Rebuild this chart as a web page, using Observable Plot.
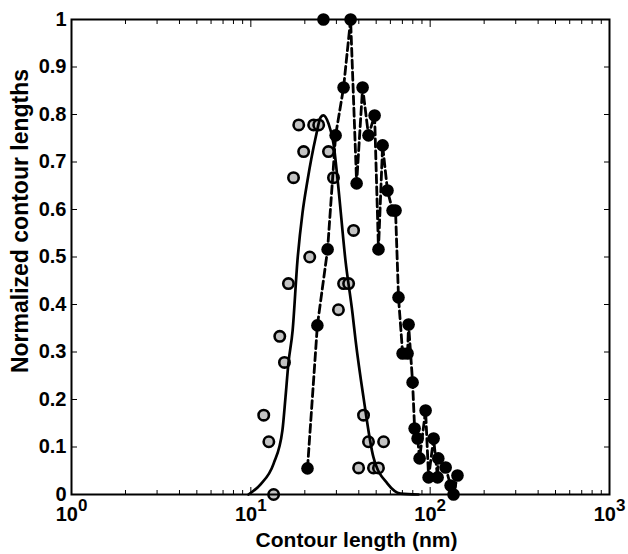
<!DOCTYPE html>
<html><head><meta charset="utf-8">
<script src="https://cdn.jsdelivr.net/npm/d3@7"></script>
<script src="https://cdn.jsdelivr.net/npm/@observablehq/plot@0.6"></script>
<style>
html,body{margin:0;padding:0;background:#fff;}
</style>
</head><body><div id="chart"></div>
<script>
// Gray circles (open, gray fill)
const grayX = [18.5, 22.4, 23.9, 19.7, 27.1, 17.3, 28.9, 37.4, 21.3, 16.2, 32.9, 35.1, 30.8, 14.5, 15.4, 11.8, 12.6, 13.4, 42.5, 45.3, 55.0, 39.9, 48.3, 51.5];
const grayY = [0.778, 0.778, 0.778, 0.722, 0.722, 0.667, 0.667, 0.556, 0.5, 0.444, 0.444, 0.444, 0.389, 0.333, 0.278, 0.167, 0.111, 0, 0.167, 0.111, 0.111, 0.056, 0.056, 0.056];

// Black dots joined by the dashed line
const blackX = [20.7, 23.5, 26.8, 29.7, 32.9, 36.0, 38.9, 42.0, 45.3, 49.0, 51.5, 54.3, 57.8, 61.7, 64.1, 66.6, 70.2, 74.8, 75.8, 79.8, 81.9, 85.1, 87.3, 94.3, 98.0, 104.5, 110, 111, 122, 130, 135, 142];
const blackY = [0.055, 0.356, 0.516, 0.756, 0.857, 1.0, 0.655, 0.857, 0.756, 0.798, 0.516, 0.735, 0.64, 0.598, 0.598, 0.415, 0.297, 0.297, 0.358, 0.236, 0.139, 0.118, 0.076, 0.177, 0.036, 0.118, 0.036, 0.076, 0.057, 0.019, 0, 0.04];

// Black dot not on the dashed line
const blackExtraX = [25.4];
const blackExtraY = [1.0];

// Solid fitted curve
const fitX = [9.7, 11.3, 13.4, 15.0, 15.6, 16.2, 17.1, 18.2, 19.4, 20.7, 23.0, 24.5, 25.4, 27.1, 28.9, 30.5, 33.7, 36.9, 38.4, 42.5, 48.3, 57.8, 68.4, 86];
const fitY = [0, 0.021, 0.065, 0.135, 0.204, 0.276, 0.345, 0.493, 0.592, 0.661, 0.752, 0.794, 0.798, 0.781, 0.739, 0.661, 0.493, 0.381, 0.324, 0.204, 0.078, 0.023, 0.002, 0];

// Ticks
const xMajor = [1, 10, 100, 1000];
const xMinor = [2,3,4,5,6,7,8,9,20,30,40,50,60,70,80,90,200,300,400,500,600,700,800,900];
const yTicks = [0, 0.1, 0.2, 0.3, 0.4, 0.5, 0.6, 0.7, 0.8, 0.9, 1];
const yTickLabels = ["0", "0.1", "0.2", "0.3", "0.4", "0.5", "0.6", "0.7", "0.8", "0.9", "1"];
const xTickBase = ["10", "10", "10", "10"];
const xTickExp = ["0", "1", "2", "3"];

const xTitle = "Contour length (nm)";
const yTitle = "Normalized contour lengths";

const zip = (xs, ys) => xs.map((x, i) => ({x, y: ys[i]}));
const gray = zip(grayX, grayY);
const black = zip(blackX, blackY);
const blackExtra = zip(blackExtraX, blackExtraY);
const fit = zip(fitX, fitY);

const font = "'Liberation Sans', Arial, Helvetica, sans-serif";

const svg = Plot.plot({
  width: 628,
  height: 554,
  marginLeft: 71,
  marginRight: 19,
  marginTop: 19,
  marginBottom: 60,
  x: {type: "log", domain: [1, 1000], label: null},
  y: {domain: [0, 1], label: null},
  style: {fontFamily: font, fontWeight: "bold", fontSize: "20px", color: "black", background: "white"},
  marks: [
    Plot.dot(gray, {x: "x", y: "y", r: 5.2, fill: "#c3c3c3", stroke: "black", strokeWidth: 2.6}),
    Plot.line(fit, {x: "x", y: "y", curve: "monotone-x", stroke: "black", strokeWidth: 2.7}),
    Plot.line(black, {x: "x", y: "y", stroke: "black", strokeWidth: 2.8, strokeDasharray: "8,4"}),
    Plot.dot(black.concat(blackExtra), {x: "x", y: "y", r: 6.3, fill: "black"}),
    Plot.frame({stroke: "black", strokeWidth: 2}),
    // inward ticks
    Plot.axisX(xMajor, {anchor: "bottom", tickSize: -7, tickFormat: () => "", label: null}),
    Plot.axisX(xMinor, {anchor: "bottom", tickSize: -4, tickFormat: () => "", label: null}),
    Plot.axisX(xMajor, {anchor: "top", tickSize: -7, tickFormat: () => "", label: null}),
    Plot.axisX(xMinor, {anchor: "top", tickSize: -4, tickFormat: () => "", label: null}),
    Plot.axisY(yTicks, {anchor: "left", tickSize: -6, tickFormat: () => "", label: null}),
    Plot.axisY(yTicks, {anchor: "right", tickSize: -6, tickFormat: () => "", label: null}),
    // tick labels
    Plot.text(xMajor, {x: d => d, text: d => xTickBase[xMajor.indexOf(d)] + "^" + xTickExp[xMajor.indexOf(d)],
      frameAnchor: "bottom", lineAnchor: "top", dy: 12, fontSize: 20, fontWeight: "bold", textAnchor: "middle"}),
    Plot.axisY(yTicks, {anchor: "left", tickSize: 0, tickPadding: 5, tickFormat: d => yTickLabels[yTicks.indexOf(d)], label: null, fontSize: 20}),
    // titles
    Plot.text([xTitle], {text: d => d, frameAnchor: "bottom", lineAnchor: "middle", dx: 16, dy: 46, fontSize: 21, fontWeight: "bold"}),
    Plot.text([yTitle], {text: d => d, frameAnchor: "left", textAnchor: "middle", lineAnchor: "middle", rotate: -90, dx: -51, dy: -36, fontSize: 23, fontWeight: "bold"})
  ]
});

// superscript exponents on the x tick labels
svg.querySelectorAll("text").forEach(t => {
  const s = t.textContent;
  if (s.includes("^")) {
    const [base, exp] = s.split("^");
    t.textContent = base;
    const ts = document.createElementNS("http://www.w3.org/2000/svg", "tspan");
    ts.setAttribute("dy", "-0.6em");
    ts.setAttribute("font-size", "17");
    ts.textContent = exp;
    t.appendChild(ts);
  }
});

document.getElementById("chart").appendChild(svg);
</script>
</body></html>
